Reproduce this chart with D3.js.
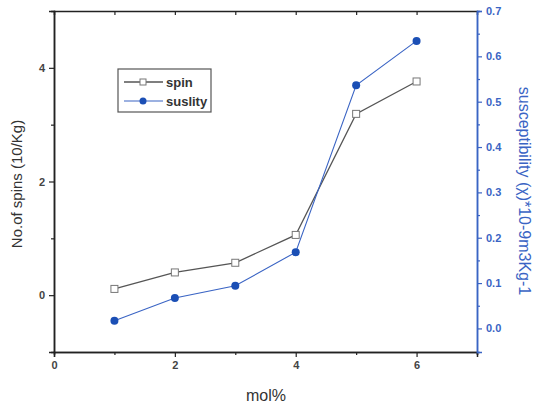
<!DOCTYPE html>
<html>
<head>
<meta charset="utf-8">
<script src="https://d3js.org/d3.v7.min.js"></script>
<style>
  body { margin: 0; background: #fff; }
  text { font-family: "Liberation Sans", Arial, sans-serif; }
</style>
</head>
<body>
<div id="chart"></div>
<script>
// data
var molPct = [1, 2, 3, 4, 5, 6];
var spin = [0.11, 0.40, 0.57, 1.06, 3.19, 3.76];
var suslity = [0.017, 0.067, 0.094, 0.168, 0.536, 0.634];

var leftTicks = [0, 2, 4];
var rightTicks = [0.0, 0.1, 0.2, 0.3, 0.4, 0.5, 0.6, 0.7];
var xTicks = [0, 2, 4, 6];

var width = 535, height = 404;
// plot frame (note: "top" is reserved on window, so use pl/pr/pt/pb)
var pl = 54, pr = 477, pt = 11, pb = 352;

var gray = "#444", blue = "#3a64c4", blueDot = "#1b4fb5";

var svg = d3.select("#chart").append("svg")
    .attr("width", width)
    .attr("height", height);

var x = d3.scaleLinear().domain([0, 7]).range([pl, pr]);
var y = d3.scaleLinear().domain([-1, 5]).range([pb, pt]);
var y2 = d3.scaleLinear().domain([-0.052, 0.7]).range([pb, pt]);

// bottom axis
svg.append("g")
    .attr("transform", "translate(0," + pb + ")")
    .call(d3.axisBottom(x).tickValues(xTicks).tickFormat(d3.format("d")).tickSize(5).tickPadding(4));
svg.append("g")
    .attr("transform", "translate(0," + pb + ")")
    .call(d3.axisBottom(x).tickValues([1, 3, 5, 7]).tickFormat("").tickSize(3));

// top axis (ticks inside)
svg.append("g")
    .attr("transform", "translate(0," + pt + ")")
    .call(d3.axisTop(x).tickValues([1, 2, 3, 4, 5, 6]).tickFormat("").tickSize(-4));

// left axis
svg.append("g")
    .attr("transform", "translate(" + pl + ",0)")
    .call(d3.axisLeft(y).tickValues(leftTicks).tickFormat(d3.format("d")).tickSize(5).tickPadding(4));
svg.append("g")
    .attr("transform", "translate(" + pl + ",0)")
    .call(d3.axisLeft(y).tickValues([1, 3]).tickFormat("").tickSize(3));

// right axis
svg.append("g")
    .attr("class", "right")
    .attr("transform", "translate(" + pr + ",0)")
    .call(d3.axisRight(y2).tickValues(rightTicks).tickFormat(d3.format(".1f")).tickSize(5).tickPadding(4));
svg.append("g")
    .attr("class", "right")
    .attr("transform", "translate(" + pr + ",0)")
    .call(d3.axisRight(y2).tickValues([0.05, 0.15, 0.25, 0.35, 0.45, 0.55, 0.65]).tickFormat("").tickSize(3));

svg.selectAll(".domain").attr("stroke", "#222").attr("stroke-width", 1.5);
svg.selectAll(".tick line").attr("stroke", "#222").attr("stroke-width", 1.2);
svg.selectAll(".tick text").attr("fill", gray).style("font-size", "11px").style("font-weight", "bold");
svg.selectAll(".right .domain, .right .tick line").attr("stroke", blue);
svg.selectAll(".right .tick text").attr("fill", blue);

// axis titles
svg.append("text")
    .attr("transform", "translate(22,184) rotate(-90)")
    .attr("text-anchor", "middle")
    .style("font-size", "15px")
    .attr("fill", "#333")
    .text("No.of spins (10/Kg)");

svg.append("text")
    .attr("x", 266)
    .attr("y", 401)
    .attr("text-anchor", "middle")
    .style("font-size", "16px")
    .attr("fill", "#333")
    .text("mol%");

svg.append("text")
    .attr("transform", "translate(519,191) rotate(90)")
    .attr("text-anchor", "middle")
    .style("font-size", "16px")
    .attr("fill", blue)
    .text("susceptibility (\u03C7)*10-9m3Kg-1");

// spin line
svg.append("path")
    .datum(molPct)
    .attr("fill", "none")
    .attr("stroke", "#555")
    .attr("stroke-width", 1.3)
    .attr("d", d3.line()
        .x(function(d) { return x(d); })
        .y(function(d, i) { return y(spin[i]); }));

svg.append("g").selectAll("rect")
    .data(molPct)
    .enter()
    .append("rect")
    .attr("x", function(d) { return x(d) - 3.5; })
    .attr("y", function(d, i) { return y(spin[i]) - 3.5; })
    .attr("width", 7)
    .attr("height", 7)
    .attr("fill", "#fff")
    .attr("stroke", "#777")
    .attr("stroke-width", 1);

// suslity line
svg.append("path")
    .datum(molPct)
    .attr("fill", "none")
    .attr("stroke", blue)
    .attr("stroke-width", 1.1)
    .attr("d", d3.line()
        .x(function(d) { return x(d); })
        .y(function(d, i) { return y2(suslity[i]); }));

svg.append("g").selectAll("circle")
    .data(molPct)
    .enter()
    .append("circle")
    .attr("cx", function(d) { return x(d); })
    .attr("cy", function(d, i) { return y2(suslity[i]); })
    .attr("r", 4)
    .attr("fill", blueDot);

// legend
var lg = svg.append("g").attr("transform", "translate(118,69)");
lg.append("rect")
    .attr("width", 93).attr("height", 43)
    .attr("fill", "#fff").attr("stroke", "#555").attr("stroke-width", 1.2);
lg.append("line").attr("x1", 6).attr("x2", 45).attr("y1", 13).attr("y2", 13)
    .attr("stroke", "#555").attr("stroke-width", 1.3);
lg.append("rect").attr("x", 22).attr("y", 10).attr("width", 6).attr("height", 6)
    .attr("fill", "#fff").attr("stroke", "#777");
lg.append("text").attr("x", 48).attr("y", 18).style("font-size", "13px").style("font-weight", "bold")
    .attr("fill", "#333").text("spin");
lg.append("line").attr("x1", 6).attr("x2", 45).attr("y1", 32).attr("y2", 32)
    .attr("stroke", blue).attr("stroke-width", 1.1);
lg.append("circle").attr("cx", 25).attr("cy", 32).attr("r", 3.5).attr("fill", blueDot);
lg.append("text").attr("x", 48).attr("y", 37).style("font-size", "13px").style("font-weight", "bold")
    .attr("fill", "#333").text("suslity");
</script>
</body>
</html>
